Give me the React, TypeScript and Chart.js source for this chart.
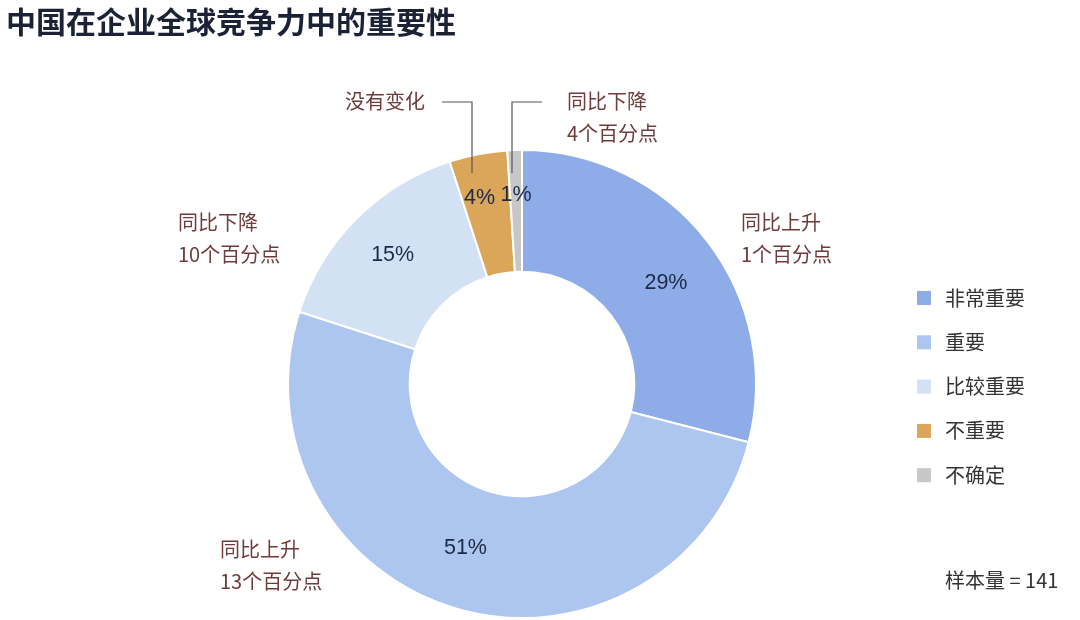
import React, { useEffect, useRef } from "react";
import { Chart, registerables } from "chart.js";

Chart.register(...registerables);

const TITLE = "中国在企业全球竞争力中的重要性";
const categories = ["非常重要", "重要", "比较重要", "不重要", "不确定"];
const values = [29, 51, 15, 4, 1];
const colors = ["#8eade8", "#adc6ef", "#d3e1f5", "#dba659", "#c7c7c7"];
const changeNotes = [
  ["同比上升", "1个百分点"],
  ["同比上升", "13个百分点"],
  ["同比下降", "10个百分点"],
  ["没有变化"],
  ["同比下降", "4个百分点"],
];
const sampleNote = "样本量 = 141";

const CJK = "'Noto Sans CJK SC', 'Noto Sans', sans-serif";
const NUM = "'Liberation Sans', Arial, sans-serif";

const overlayPlugin = {
  id: "overlay",
  afterDraw(chart: any) {
    const ctx = chart.ctx as CanvasRenderingContext2D;
    const meta = chart.getDatasetMeta(0);
    const arcs = meta.data as any[];
    ctx.save();

    // title
    ctx.fillStyle = "#1b2236";
    ctx.font = `bold 30px ${CJK}`;
    ctx.textAlign = "left";
    ctx.textBaseline = "middle";
    ctx.fillText(TITLE, 6, 22);

    // percentage labels
    ctx.font = `21.5px ${NUM}`;
    ctx.fillStyle = "#1c2a48";
    ctx.textAlign = "center";
    const fracs = [0.52, 0.5, 0.58, 0.63, 0.63];
    const angleShift = [0.05, 0.05, 0, 0, 0];
    arcs.forEach((arc, i) => {
      const p = arc.getProps(["x", "y", "startAngle", "endAngle", "innerRadius", "outerRadius"], true);
      const mid = (p.startAngle + p.endAngle) / 2 + angleShift[i];
      const r = p.innerRadius + (p.outerRadius - p.innerRadius) * fracs[i];
      let x = p.x + Math.cos(mid) * r;
      const y = p.y + Math.sin(mid) * r;
      if (i === 3) x -= 7;
      ctx.fillText(values[i] + "%", x, y);
    });

    const a0 = arcs[0].getProps(["x", "y"], true);
    const cx = a0.x;
    const cy = a0.y;

    // change notes
    ctx.fillStyle = "#6f3b3b";
    ctx.font = `20px ${CJK}`;
    ctx.textAlign = "left";
    const notePos = [
      [cx + 219, cy - 162],
      [cx - 302, cy + 165],
      [cx - 344, cy - 162],
      [cx - 177, cy - 283],
      [cx + 45, cy - 283],
    ];
    changeNotes.forEach((lines, i) => {
      lines.forEach((t, k) => {
        ctx.fillText(t, notePos[i][0], notePos[i][1] + k * 32);
      });
    });

    // leader lines
    ctx.strokeStyle = "#555555";
    ctx.lineWidth = 1.2;
    ctx.beginPath();
    ctx.moveTo(cx - 80, cy - 282);
    ctx.lineTo(cx - 50, cy - 282);
    ctx.lineTo(cx - 50, cy - 211);
    ctx.moveTo(cx + 20, cy - 282);
    ctx.lineTo(cx - 10, cy - 282);
    ctx.lineTo(cx - 10, cy - 211);
    ctx.stroke();

    // legend
    const ds = chart.data.datasets[0];
    ctx.font = `20px ${CJK}`;
    (chart.data.labels as string[]).forEach((lab, i) => {
      const y = 298 + i * 44.3;
      ctx.fillStyle = ds.backgroundColor[i];
      ctx.fillRect(917, y - 7, 14, 14);
      ctx.fillStyle = "#333333";
      ctx.fillText(lab, 945, y);
    });

    // sample size
    ctx.fillStyle = "#333333";
    ctx.fillText(sampleNote, 945, 580);

    ctx.restore();
  },
};

export default function App() {
  const ref = useRef<HTMLCanvasElement | null>(null);
  useEffect(() => {
    document.body.style.margin = "0";
    document.body.style.background = "#ffffff";
    const chart = new Chart(ref.current as HTMLCanvasElement, {
      type: "doughnut",
      data: {
        labels: categories,
        datasets: [
          {
            data: values,
            backgroundColor: colors,
            borderColor: "#ffffff",
            borderWidth: 2,
          },
        ],
      },
      options: {
        animation: false,
        responsive: false,
        maintainAspectRatio: false,
        cutout: "48%",
        layout: { padding: { left: 287, right: 323, top: 149, bottom: 1 } },
        plugins: {
          legend: { display: false },
          tooltip: { enabled: false },
          title: { display: false },
        },
      },
      plugins: [overlayPlugin],
    });
    return () => chart.destroy();
  }, []);
  return (
    <div style={{ width: 1080, height: 620, background: "#fff" }}>
      <canvas ref={ref} width={1080} height={620} style={{ display: "block" }} />
    </div>
  );
}
